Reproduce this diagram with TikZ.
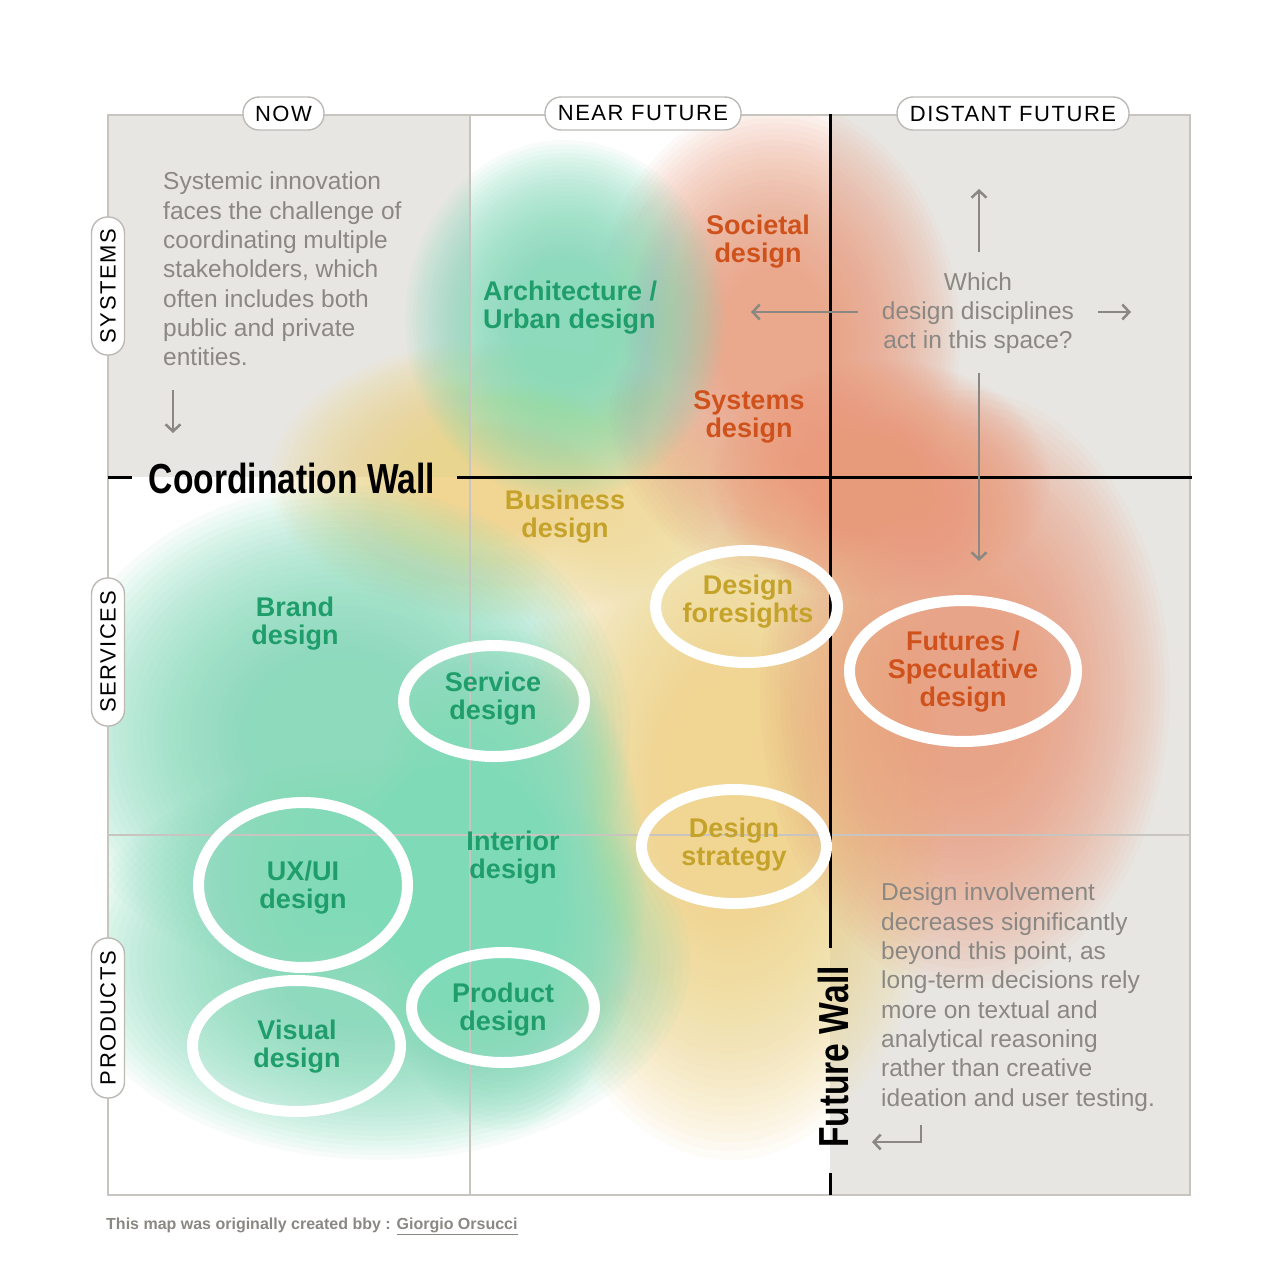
\documentclass[tikz,border=0pt]{standalone}
\usepackage{fontspec}
\setmainfont{Liberation Sans}
\newfontfamily\pillfont[LetterSpace=7]{Liberation Sans}
\usetikzlibrary{arrows.meta,shapes.geometric}
\definecolor{bggray}{HTML}{E8E6E3}
\definecolor{gridgray}{HTML}{C8C5C1}
\definecolor{txtgray}{HTML}{8B8884}
\definecolor{greentxt}{HTML}{1F9E6B}
\definecolor{orangetxt}{HTML}{CF521D}
\definecolor{yellowtxt}{HTML}{C5A32A}
\definecolor{blobgreen}{HTML}{7FDAB8}
\definecolor{blobyellow}{HTML}{F0D585}
\definecolor{bloborange}{HTML}{EA9B7A}
\definecolor{pillgray}{HTML}{BDBAB6}
\newcommand{\softblob}[6][0.06]{%
  \foreach \k in {0,...,29}{%
    \fill[#2, fill opacity=#1] (#3,#4) ellipse [x radius={(#5)*(1-0.024*\k)*1pt}, y radius={(#6)*(1-0.024*\k)*1pt}];
  }}
\tikzset{
  lab/.style={font=\bfseries\fontsize{27}{28}\selectfont, align=center, inner sep=0pt},
  glab/.style={lab, text=greentxt},
  olab/.style={lab, text=orangetxt},
  ylab/.style={lab, text=yellowtxt},
  ring/.style={ellipse, draw=white, line width=11pt, inner sep=0pt},
  para/.style={font=\fontsize{24.5}{29.3}\selectfont, text=txtgray, inner sep=0pt},
  pill/.style={draw=pillgray, line width=1.4pt, fill=white, rounded corners=16pt, minimum height=33pt, inner xsep=0pt, inner ysep=0pt, font=\pillfont\fontsize{22}{22}\selectfont},
  garrow/.style={draw=txtgray, line width=2.5pt, -{Straight Barb[length=7pt,width=15pt,line width=2.5pt]}},
  wall/.style={line width=3pt, draw=black},
  gridline/.style={draw=gridgray, line width=1.3pt},
  walltext/.style={font=\bfseries\fontsize{42}{42}\selectfont, inner sep=0pt},
}
\begin{document}
\begin{tikzpicture}[x=1pt,y=-1pt]
\useasboundingbox[fill=white] (0,0) rectangle (1280,1283);
% gray cells
\fill[bggray] (108,115) rectangle (470,477);
\fill[bggray] (830,115) rectangle (1190,1195);
% blobs
\begin{scope}
\clip (108,115) rectangle (1190,1195);
\softblob{blobyellow}{730}{790}{220}{370}
\softblob{blobyellow}{500}{480}{230}{140}
\softblob[0.05]{bloborange}{775}{340}{185}{240}
\softblob[0.05]{bloborange}{880}{480}{170}{120}
\softblob[0.05]{bloborange}{965}{690}{205}{300}
\softblob{blobgreen}{565}{320}{160}{180}
\softblob{blobgreen}{340}{735}{290}{250}
\softblob{blobgreen}{380}{960}{310}{200}
\softblob{blobgreen}{505}{880}{140}{250}
\end{scope}
% grid
\draw[gridline] (108,115) rectangle (1190,1195);
\draw[gridline] (470,115) -- (470,1195);
\draw[gridline] (108,835) -- (1190,835);
% walls
\coordinate (cwA) at (108,477);
\coordinate (cwB) at (132,477);
\coordinate (cwC) at (457,477);
\coordinate (cwD) at (1192,477);
\coordinate (fwA) at (830,114);
\coordinate (fwB) at (830,948);
\coordinate (fwC) at (830,1173);
\coordinate (fwD) at (830,1195);
\draw[wall] (cwA) -- (cwB);
\draw[wall] (cwC) -- (cwD);
\draw[wall] (fwA) -- (fwB);
\draw[wall] (fwC) -- (fwD);
\node[walltext] (cwall) at (292,478) {\scalebox{0.8}[1]{Coordination Wall}};
\node[walltext, rotate=90] (fwall) at (833,1057) {\scalebox{0.8}[1]{Future Wall}};
% pills
\node[pill, minimum width=81pt] (now) at (283.5,113.5) {NOW};
\node[pill, minimum width=196pt] (near) at (643,113.5) {NEAR FUTURE};
\node[pill, minimum width=232pt] (distant) at (1013,113.5) {DISTANT FUTURE};
\node[pill, minimum width=138pt, rotate=90] (systems) at (108,286) {SYSTEMS};
\node[pill, minimum width=148pt, rotate=90] (services) at (108,652) {SERVICES};
\node[pill, minimum width=160pt, rotate=90] (products) at (108,1018) {PRODUCTS};
% paragraphs
\node[para, anchor=north west, align=left] (p1) at (163,172) {Systemic innovation\\faces the challenge of\\coordinating multiple\\stakeholders, which\\often includes both\\public and private\\entities.};
\node[para, anchor=north west, align=left] (p2) at (881,883) {Design involvement\\decreases significantly\\beyond this point, as\\long-term decisions rely\\more on textual and\\analytical reasoning\\rather than creative\\ideation and user testing.};
\node[para, align=center] (which) at (978,313) {Which\\design disciplines\\act in this space?};
% arrows
\coordinate (a1s) at (173,390); \coordinate (a1e) at (173,433);
\draw[garrow] (a1s) -- (a1e);
\coordinate (upS) at (979,252); \coordinate (upE) at (979,189);
\draw[garrow] (upS) -- (upE);
\coordinate (lS) at (858,312); \coordinate (lE) at (751,312);
\draw[garrow] (lS) -- (lE);
\coordinate (rS) at (1098,312); \coordinate (rE) at (1131,312);
\draw[garrow] (rS) -- (rE);
\coordinate (dS) at (979,373); \coordinate (dE) at (979,561);
\draw[garrow] (dS) -- (dE);
\coordinate (retA) at (921,1125); \coordinate (retB) at (921,1142); \coordinate (retC) at (872,1142);
\draw[garrow] (retA) -- (retB) -- (retC);
% rings
\node[ring, minimum width=182pt, minimum height=112pt] (rDF) at (746.5,606.5) {};
\node[ring, minimum width=227pt, minimum height=141pt] (rFS) at (963,671) {};
\node[ring, minimum width=181pt, minimum height=111pt] (rSD) at (494,701) {};
\node[ring, minimum width=185pt, minimum height=114pt] (rDS) at (734,846.5) {};
\node[ring, minimum width=209pt, minimum height=165pt] (rUX) at (303,885) {};
\node[ring, minimum width=208pt, minimum height=131pt] (rVD) at (296.5,1046) {};
\node[ring, minimum width=183pt, minimum height=110pt] (rPD) at (503,1007.5) {};
% labels
\node[olab] (societal) at (758,242) {Societal\\design};
\node[glab, anchor=west, align=left] (arch) at (483,308) {Architecture /\\Urban design};
\node[olab] (systemsd) at (749,417) {Systems\\design};
\node[ylab] (business) at (565,517) {Business\\design};
\node[ylab] (foresight) at (748,602) {Design\\foresights};
\node[olab] (futures) at (963,672) {Futures /\\Speculative\\design};
\node[glab] (brand) at (295,624) {Brand\\design};
\node[glab] (service) at (493,699) {Service\\design};
\node[glab] (interior) at (513,858) {Interior\\design};
\node[ylab] (strategy) at (734,845) {Design\\strategy};
\node[glab] (uxui) at (303,888) {UX/UI\\design};
\node[glab] (visual) at (297,1047) {Visual\\design};
\node[glab] (product) at (503,1010) {Product\\design};
% footer
\node[font=\bfseries\fontsize{16}{16}\selectfont, text=txtgray, anchor=base west, inner sep=0pt] (footer) at (106,1229) {This map was originally created bby : \underline{Giorgio Orsucci}};
\end{tikzpicture}
\end{document}
